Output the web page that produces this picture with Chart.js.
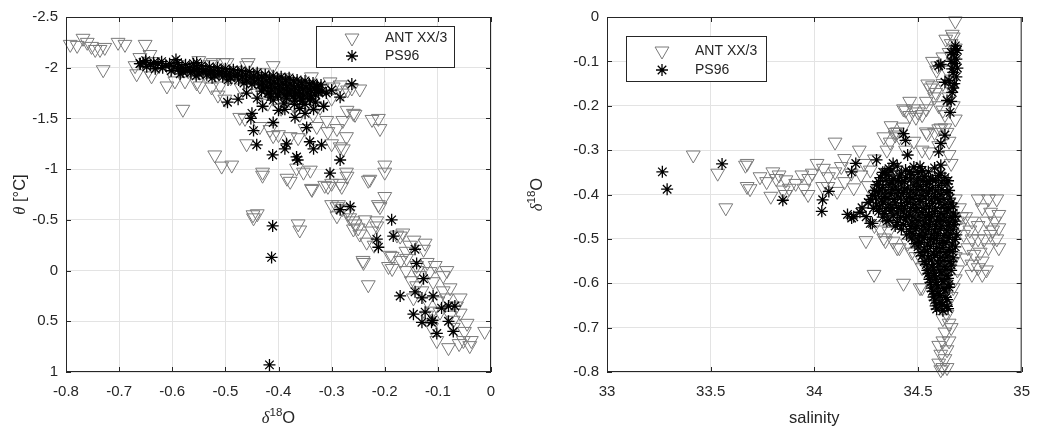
<!DOCTYPE html>
<html>
<head>
<meta charset="utf-8">
<script src="https://cdn.jsdelivr.net/npm/chart.js@4"></script>
<style>
  body { margin: 0; background: #fff; }
  #wrap { position: relative; width: 1041px; height: 428px; }
  #left { position: absolute; left: 0; top: 0; }
  #right { position: absolute; left: 520px; top: 0; }
</style>
</head>
<body>
<div id="wrap">
  <canvas id="left" width="520" height="428"></canvas>
  <canvas id="right" width="521" height="428"></canvas>
</div>
<script>
// ---- data ----
const seriesNames = ["ANT XX/3", "PS96"];

// left panel: [d18O, theta]
const antLeft = [
  [-0.792,-2.23],[-0.779,-2.22],[-0.768,-2.29],[-0.760,-2.25],[-0.752,-2.21],[-0.745,-2.18],[-0.736,-2.18],[-0.727,-2.20],[-0.730,-1.98],[-0.702,-2.25],[-0.689,-2.23],[-0.651,-2.23],
  [-0.670,-2.02],[-0.667,-1.94],[-0.661,-2.10],[-0.645,-1.97],[-0.642,-2.13],[-0.639,-1.92],[-0.636,-2.06],[-0.625,-2.02],[-0.610,-1.82],[-0.605,-1.98],[-0.595,-1.87],[-0.590,-2.03],[-0.576,-1.87],[-0.570,-1.97],[-0.554,-1.85],[-0.550,-2.07],[-0.548,-1.82],[-0.540,-1.95],[-0.529,-2.03],[-0.526,-1.81],[-0.523,-2.05],[-0.514,-1.73],[-0.510,-1.82],[-0.504,-2.05],[-0.501,-1.69],[-0.497,-2.05],[-0.490,-1.90],[-0.480,-1.97],[-0.473,-1.51],[-0.470,-1.80],[-0.463,-1.50],[-0.460,-2.02],[-0.457,-2.05],[-0.450,-1.88],[-0.440,-1.75],[-0.435,-1.42],[-0.430,-1.95],[-0.420,-1.65],[-0.416,-1.39],[-0.410,-2.02],[-0.410,-1.33],[-0.405,-1.80],[-0.400,-1.34],[-0.395,-1.60],[-0.390,-1.90],[-0.385,-1.70],[-0.378,-1.32],[-0.372,-1.63],[-0.370,-1.85],[-0.363,-1.31],[-0.360,-1.54],[-0.355,-1.75],[-0.350,-1.40],[-0.345,-1.65],[-0.338,-1.91],[-0.335,-1.54],[-0.330,-1.72],[-0.328,-1.42],[-0.322,-1.61],[-0.318,-1.80],[-0.309,-1.48],[-0.307,-1.37],[-0.303,-1.86],[-0.300,-1.25],[-0.300,-1.70],[-0.297,-1.81],[-0.290,-1.40],[-0.284,-1.83],[-0.284,-1.22],[-0.280,-1.75],[-0.279,-1.48],[-0.278,-1.20],[-0.272,-1.32],[-0.271,-1.58],[-0.270,-1.78],[-0.262,-1.80],[-0.259,-1.55],[-0.256,-1.54],[-0.247,-1.79],[-0.224,-1.49],[-0.212,-1.50],[-0.209,-1.40],
  [-0.580,-1.59],[-0.520,-1.14],[-0.507,-1.03],[-0.488,-1.04],[-0.460,-1.25],[-0.430,-0.97],[-0.430,-0.94],[-0.384,-0.91],[-0.378,-0.88],[-0.366,-1.01],[-0.353,-0.97],[-0.340,-0.99],[-0.338,-0.81],[-0.313,-0.84],[-0.307,-0.83],[-0.300,-0.86],[-0.284,-0.86],[-0.281,-0.83],[-0.272,-0.97],[-0.271,-0.93],[-0.231,-0.89],[-0.228,-0.90],[-0.200,-1.04],[-0.200,-0.97],[-0.200,-0.73],[-0.212,-0.65],
  [-0.448,-0.55],[-0.440,-0.56],[-0.447,-0.52],[-0.363,-0.46],[-0.360,-0.40],[-0.337,-0.80],[-0.300,-0.65],[-0.290,-0.63],[-0.280,-0.61],[-0.270,-0.60],[-0.287,-0.65],[-0.269,-0.56],[-0.290,-0.54],[-0.266,-0.52],[-0.259,-0.41],[-0.260,-0.49],[-0.256,-0.46],[-0.250,-0.42],[-0.247,-0.36],[-0.237,-0.50],[-0.234,-0.28],[-0.224,-0.39],[-0.240,-0.08],[-0.241,-0.10],[-0.231,0.14],[-0.215,-0.49],[-0.215,-0.44],[-0.220,-0.25],[-0.209,-0.63],[-0.190,-0.15],[-0.193,-0.04],[-0.186,-0.14],[-0.186,-0.02],[-0.177,-0.35],[-0.171,-0.34],[-0.166,-0.37],[-0.160,-0.19],[-0.159,-0.12],[-0.153,-0.25],[-0.146,0.27],[-0.145,-0.30],[-0.140,-0.05],[-0.139,0.00],[-0.134,0.05],[-0.127,-0.21],[-0.124,-0.27],[-0.121,0.44],[-0.120,-0.08],[-0.115,0.01],[-0.112,0.56],[-0.109,0.11],[-0.105,-0.05],[-0.102,0.69],[-0.100,0.30],[-0.096,0.41],[-0.090,0.05],[-0.090,0.20],[-0.084,0.27],[-0.083,0.00],[-0.080,0.76],[-0.077,0.44],[-0.077,0.17],[-0.071,0.56],[-0.071,0.49],[-0.065,0.35],[-0.058,0.27],[-0.058,0.42],[-0.052,0.69],[-0.050,0.60],[-0.045,0.52],[-0.037,0.69],[-0.040,0.74],[-0.060,0.72],[-0.012,0.60],[-0.130,0.20],[-0.150,0.10],[-0.140,0.15],[-0.120,0.30],[-0.110,0.40],[-0.160,0.00],[-0.170,-0.10]
];
const psLeft = [
  [-0.660,-2.04],[-0.650,-2.07],[-0.648,-2.01],[-0.635,-2.05],[-0.632,-1.99],[-0.620,-2.06],[-0.618,-2.00],[-0.605,-2.04],[-0.602,-1.97],[-0.590,-2.05],[-0.588,-1.99],[-0.585,-1.94],[-0.575,-2.03],[-0.572,-1.97],[-0.560,-2.04],[-0.558,-1.98],[-0.555,-1.92],[-0.545,-2.02],[-0.542,-1.96],[-0.530,-2.01],[-0.528,-1.95],[-0.525,-1.90],[-0.515,-2.00],[-0.512,-1.94],[-0.500,-1.99],[-0.498,-1.93],[-0.495,-1.88],[-0.485,-1.98],[-0.482,-1.92],[-0.470,-1.97],[-0.468,-1.91],[-0.465,-1.85],[-0.455,-1.96],[-0.452,-1.90],[-0.450,-1.84],[-0.440,-1.95],[-0.438,-1.89],[-0.435,-1.83],[-0.432,-1.77],[-0.425,-1.93],[-0.422,-1.87],[-0.420,-1.81],[-0.418,-1.75],[-0.410,-1.92],[-0.408,-1.86],[-0.405,-1.80],[-0.402,-1.74],[-0.395,-1.91],[-0.392,-1.85],[-0.390,-1.79],[-0.388,-1.73],[-0.380,-1.90],[-0.378,-1.84],[-0.375,-1.78],[-0.372,-1.72],[-0.365,-1.88],[-0.362,-1.82],[-0.360,-1.76],[-0.358,-1.70],[-0.350,-1.87],[-0.348,-1.81],[-0.345,-1.75],[-0.342,-1.69],[-0.335,-1.85],[-0.332,-1.79],[-0.330,-1.73],[-0.320,-1.83],[-0.318,-1.77],
  [-0.655,-2.05],[-0.641,-2.03],[-0.627,-2.04],[-0.612,-2.02],[-0.597,-2.01],[-0.582,-2.00],[-0.567,-2.00],[-0.552,-1.99],[-0.537,-1.98],[-0.522,-1.97],[-0.507,-1.96],[-0.492,-1.95],[-0.477,-1.94],[-0.462,-1.93],[-0.447,-1.92],[-0.432,-1.91],[-0.417,-1.90],[-0.402,-1.89],[-0.387,-1.88],[-0.372,-1.87],[-0.357,-1.85],[-0.342,-1.84],[-0.327,-1.82],
  [-0.580,-1.96],[-0.565,-1.95],[-0.550,-1.94],[-0.535,-1.93],[-0.520,-1.92],[-0.505,-1.91],[-0.490,-1.90],[-0.475,-1.88],[-0.460,-1.87],[-0.445,-1.86],[-0.430,-1.85],[-0.415,-1.84],[-0.400,-1.83],[-0.385,-1.82],[-0.370,-1.81],[-0.355,-1.79],[-0.340,-1.78],[-0.325,-1.76],
  [-0.428,-1.80],[-0.413,-1.78],[-0.398,-1.77],[-0.383,-1.76],[-0.368,-1.75],[-0.353,-1.73],[-0.338,-1.72],[-0.415,-1.71],[-0.385,-1.70],[-0.355,-1.67],[-0.370,-1.64],
  [-0.420,-1.75],[-0.410,-1.68],[-0.400,-1.72],[-0.390,-1.65],[-0.380,-1.75],[-0.370,-1.68],[-0.360,-1.72],[-0.350,-1.64],[-0.340,-1.70],[-0.330,-1.66],[-0.430,-1.62],[-0.400,-1.58],[-0.360,-1.60],[-0.350,-1.55],[-0.440,-1.70],[-0.460,-1.75],[-0.315,-1.62],[-0.310,-1.75],[-0.300,-1.78],
  [-0.661,-2.04],[-0.593,-2.08],[-0.554,-2.05],[-0.496,-1.66],[-0.476,-1.69],[-0.450,-1.55],[-0.452,-1.50],[-0.447,-1.38],[-0.441,-1.24],[-0.411,-1.14],[-0.388,-1.20],[-0.385,-1.25],[-0.366,-1.12],[-0.364,-1.09],[-0.341,-1.27],[-0.334,-1.20],[-0.319,-1.24],[-0.303,-0.96],[-0.284,-1.09],[-0.284,-1.71],[-0.262,-1.84],[-0.328,-1.81],[-0.334,-1.59],[-0.369,-1.51],[-0.388,-1.59],[-0.410,-1.46],[-0.347,-1.41],
  [-0.284,-0.60],[-0.265,-0.63],[-0.411,-0.44],[-0.413,-0.13],[-0.417,0.93],[-0.187,-0.50],[-0.184,-0.34],[-0.215,-0.31],[-0.212,-0.23],[-0.143,-0.21],[-0.140,-0.07],[-0.127,0.08],[-0.171,0.25],[-0.143,0.21],[-0.130,0.27],[-0.109,0.25],[-0.146,0.43],[-0.124,0.41],[-0.130,0.51],[-0.112,0.51],[-0.110,0.49],[-0.102,0.62],[-0.093,0.37],[-0.080,0.35],[-0.068,0.35],[-0.080,0.50],[-0.071,0.60]
];

// right panel: [salinity, d18O]
const antRight = [
  [33.416,-0.311],[33.534,-0.352],[33.573,-0.430],[33.668,-0.334],[33.676,-0.330],[33.676,-0.382],[33.738,-0.360],[33.690,-0.387],[33.770,-0.371],[33.790,-0.404],[33.800,-0.349],[33.816,-0.364],[33.830,-0.356],[33.850,-0.390],[33.863,-0.367],[33.860,-0.400],[33.879,-0.386],[33.910,-0.375],[33.940,-0.356],[33.950,-0.386],[33.973,-0.364],[33.970,-0.400],[33.990,-0.352],[34.013,-0.330],[34.040,-0.382],[34.044,-0.341],[34.066,-0.382],[34.068,-0.360],[34.100,-0.349],[34.100,-0.282],[34.110,-0.393],[34.130,-0.337],[34.146,-0.319],[34.146,-0.371],[34.178,-0.352],[34.190,-0.385],[34.217,-0.300],[34.225,-0.356],[34.240,-0.330],[34.270,-0.345],[34.260,-0.380],[34.290,-0.320],
  [34.335,-0.270],[34.366,-0.282],[34.390,-0.266],[34.400,-0.259],[34.430,-0.248],[34.430,-0.207],[34.460,-0.222],[34.477,-0.207],[34.490,-0.226],[34.500,-0.214],[34.540,-0.207],[34.460,-0.190],[34.540,-0.190],[34.540,-0.259],[34.547,-0.263],[34.555,-0.304],[34.547,-0.151],[34.570,-0.155],[34.585,-0.170],[34.600,-0.252],[34.580,-0.260],[34.600,-0.290],[34.595,-0.110],[34.634,-0.050],[34.680,-0.009],[34.665,-0.039],[34.670,-0.045],[34.660,-0.060],[34.650,-0.080],[34.670,-0.100],[34.620,-0.090],[34.640,-0.120],[34.660,-0.140],[34.620,-0.150],[34.650,-0.180],[34.600,-0.200],[34.630,-0.220],[34.610,-0.250],[34.640,-0.260],[34.650,-0.280],[34.570,-0.100],[34.590,-0.120],[34.560,-0.160],[34.580,-0.180],[34.440,-0.210],[34.520,-0.220],[34.370,-0.245],[34.390,-0.260],[34.410,-0.270],[34.620,-0.210],[34.630,-0.250],[34.660,-0.160],[34.680,-0.230],[34.670,-0.200],[34.680,-0.070],[34.650,-0.310],[34.660,-0.330],[34.440,-0.300],[34.480,-0.280],[34.350,-0.300],[34.520,-0.300],
  [34.680,-0.410],[34.700,-0.430],[34.730,-0.450],[34.760,-0.460],[34.790,-0.470],[34.830,-0.460],[34.870,-0.460],[34.890,-0.475],[34.700,-0.475],[34.720,-0.490],[34.760,-0.500],[34.790,-0.500],[34.820,-0.500],[34.850,-0.490],[34.890,-0.520],[34.740,-0.520],[34.770,-0.535],[34.810,-0.550],[34.830,-0.570],[34.760,-0.557],[34.790,-0.565],[34.730,-0.543],[34.665,-0.516],[34.660,-0.494],[34.680,-0.540],[34.790,-0.410],[34.840,-0.410],[34.880,-0.410],[34.810,-0.430],[34.850,-0.440],[34.890,-0.445],[34.860,-0.480],[34.880,-0.500],[34.840,-0.520],[34.800,-0.530],[34.760,-0.580],[34.810,-0.580],[34.750,-0.480],[34.710,-0.450],[34.690,-0.460],
  [34.249,-0.504],[34.288,-0.580],[34.343,-0.504],[34.335,-0.498],[34.380,-0.505],[34.410,-0.520],[34.400,-0.520],[34.430,-0.600],[34.510,-0.610],[34.520,-0.610],[34.490,-0.540],[34.510,-0.540],[34.520,-0.565],[34.550,-0.570],[34.560,-0.580],[34.360,-0.483],[34.290,-0.470],[34.320,-0.480],[34.450,-0.510],[34.470,-0.530],
  [34.660,-0.630],[34.670,-0.610],[34.680,-0.590],[34.690,-0.570],[34.660,-0.550],[34.640,-0.670],[34.650,-0.690],[34.660,-0.700],[34.630,-0.710],[34.620,-0.730],[34.650,-0.730],[34.600,-0.740],[34.640,-0.750],[34.610,-0.760],[34.630,-0.770],[34.600,-0.780],[34.620,-0.790],[34.640,-0.790],[34.610,-0.795],[34.620,-0.680],[34.630,-0.650]
];
const psRight = [
  [33.267,-0.349],[33.290,-0.388],[33.555,-0.331],[33.848,-0.413],[34.036,-0.438],[34.040,-0.412],[34.070,-0.393],[34.160,-0.445],[34.180,-0.453],[34.180,-0.349],[34.200,-0.330],[34.300,-0.322],[34.430,-0.263],[34.440,-0.278],[34.450,-0.311],[34.270,-0.465],[34.510,-0.337],[34.570,-0.367],[34.610,-0.334],[34.600,-0.304],[34.610,-0.285],[34.630,-0.266],[34.655,-0.215],[34.640,-0.188],[34.650,-0.143],[34.665,-0.170],[34.610,-0.107],[34.600,-0.110],[34.630,-0.147],
  [34.680,-0.065],[34.690,-0.075],[34.670,-0.085],[34.685,-0.095],[34.675,-0.105],[34.690,-0.115],[34.670,-0.125],[34.685,-0.135],[34.675,-0.150],[34.665,-0.117],[34.680,-0.072],[34.660,-0.100],[34.660,-0.080],[34.670,-0.160],[34.660,-0.190],
  [34.36,-0.342],[34.40,-0.336],[34.44,-0.345],[34.48,-0.338],[34.52,-0.346],[34.58,-0.340],
  [34.34,-0.350],[34.37,-0.347],[34.42,-0.352],[34.46,-0.348],[34.50,-0.351],[34.55,-0.349],[34.61,-0.352],
  [34.32,-0.362],[34.35,-0.356],[34.38,-0.364],[34.41,-0.358],[34.44,-0.362],[34.47,-0.355],[34.50,-0.363],[34.53,-0.359],[34.56,-0.365],[34.60,-0.357],[34.63,-0.362],
  [34.31,-0.371],[34.345,-0.368],[34.375,-0.372],[34.405,-0.369],[34.435,-0.371],[34.465,-0.367],[34.495,-0.372],[34.525,-0.369],[34.555,-0.371],[34.585,-0.368],[34.615,-0.372],[34.645,-0.369],
  [34.30,-0.378],[34.33,-0.384],[34.36,-0.377],[34.39,-0.383],[34.42,-0.376],[34.45,-0.385],[34.48,-0.379],[34.51,-0.382],[34.54,-0.377],[34.57,-0.384],[34.60,-0.380],[34.64,-0.376],
  [34.29,-0.391],[34.315,-0.388],[34.345,-0.392],[34.375,-0.389],[34.405,-0.391],[34.435,-0.388],[34.465,-0.392],[34.495,-0.389],[34.525,-0.391],[34.555,-0.388],[34.585,-0.392],[34.615,-0.389],[34.65,-0.391],
  [34.28,-0.402],[34.31,-0.397],[34.34,-0.404],[34.37,-0.398],[34.40,-0.403],[34.43,-0.396],[34.46,-0.404],[34.49,-0.399],[34.52,-0.402],[34.55,-0.397],[34.58,-0.405],[34.61,-0.400],[34.64,-0.396],
  [34.27,-0.411],[34.295,-0.408],[34.325,-0.412],[34.355,-0.409],[34.385,-0.411],[34.415,-0.408],[34.445,-0.412],[34.475,-0.409],[34.505,-0.411],[34.535,-0.408],[34.565,-0.412],[34.595,-0.409],[34.625,-0.411],[34.655,-0.408],
  [34.26,-0.418],[34.30,-0.424],[34.33,-0.417],[34.36,-0.423],[34.39,-0.419],[34.42,-0.425],[34.45,-0.418],[34.48,-0.422],[34.51,-0.416],[34.54,-0.424],[34.57,-0.420],[34.60,-0.417],[34.63,-0.423],[34.66,-0.419],
  [34.285,-0.431],[34.315,-0.428],[34.345,-0.432],[34.375,-0.429],[34.405,-0.431],[34.435,-0.428],[34.465,-0.432],[34.495,-0.429],[34.525,-0.431],[34.555,-0.428],[34.585,-0.432],[34.615,-0.429],[34.645,-0.431],[34.67,-0.428],
  [34.31,-0.438],[34.34,-0.443],[34.37,-0.437],[34.40,-0.442],[34.43,-0.439],[34.46,-0.444],[34.49,-0.437],[34.52,-0.441],[34.55,-0.445],[34.58,-0.438],[34.61,-0.443],[34.64,-0.439],[34.67,-0.442],
  [34.33,-0.451],[34.38,-0.448],[34.415,-0.452],[34.445,-0.449],[34.475,-0.451],[34.505,-0.448],[34.535,-0.452],[34.565,-0.449],[34.595,-0.451],[34.625,-0.448],[34.655,-0.452],[34.68,-0.449],
  [34.36,-0.458],[34.40,-0.463],[34.44,-0.457],[34.47,-0.462],[34.50,-0.459],[34.53,-0.464],[34.56,-0.457],[34.59,-0.461],[34.62,-0.458],[34.65,-0.463],[34.68,-0.460],
  [34.39,-0.471],[34.43,-0.468],[34.465,-0.472],[34.495,-0.469],[34.525,-0.471],[34.555,-0.468],[34.585,-0.472],[34.615,-0.469],[34.645,-0.471],[34.675,-0.468],
  [34.42,-0.478],[34.46,-0.483],[34.49,-0.477],[34.52,-0.482],[34.55,-0.479],[34.58,-0.484],[34.61,-0.477],[34.64,-0.481],[34.67,-0.478],
  [34.445,-0.491],[34.475,-0.488],[34.505,-0.492],[34.535,-0.489],[34.565,-0.491],[34.595,-0.488],[34.625,-0.492],[34.655,-0.489],[34.685,-0.491],
  [34.47,-0.498],[34.50,-0.503],[34.53,-0.497],[34.56,-0.502],[34.59,-0.499],[34.62,-0.504],[34.65,-0.497],[34.68,-0.501],
  [34.485,-0.511],[34.515,-0.508],[34.545,-0.512],[34.575,-0.509],[34.605,-0.511],[34.635,-0.508],[34.665,-0.512],
  [34.50,-0.518],[34.53,-0.523],[34.56,-0.517],[34.59,-0.522],[34.62,-0.519],[34.65,-0.524],[34.68,-0.518],
  [34.51,-0.531],[34.545,-0.528],[34.575,-0.532],[34.605,-0.529],[34.635,-0.531],[34.665,-0.528],
  [34.52,-0.538],[34.55,-0.543],[34.58,-0.537],[34.61,-0.542],[34.64,-0.539],[34.67,-0.543],
  [34.53,-0.551],[34.565,-0.548],[34.595,-0.552],[34.625,-0.549],[34.655,-0.551],
  [34.54,-0.558],[34.57,-0.563],[34.60,-0.557],[34.63,-0.562],[34.66,-0.559],
  [34.545,-0.571],[34.575,-0.568],[34.605,-0.572],[34.635,-0.569],[34.66,-0.571],
  [34.55,-0.578],[34.58,-0.583],[34.61,-0.577],[34.64,-0.582],
  [34.555,-0.591],[34.585,-0.588],[34.615,-0.592],[34.645,-0.589],
  [34.56,-0.598],[34.59,-0.603],[34.62,-0.597],[34.65,-0.602],
  [34.565,-0.611],[34.595,-0.608],[34.625,-0.612],[34.65,-0.609],
  [34.57,-0.618],[34.60,-0.623],[34.63,-0.617],
  [34.575,-0.631],[34.605,-0.628],[34.635,-0.632],
  [34.58,-0.638],[34.61,-0.643],[34.64,-0.637],
  [34.585,-0.651],[34.615,-0.648],[34.64,-0.652],
  [34.59,-0.658],[34.62,-0.662],[34.645,-0.657],
  [34.25,-0.450],[34.22,-0.440],[34.19,-0.450],[34.28,-0.465],[34.35,-0.460],[34.33,-0.350],[34.38,-0.330],[34.23,-0.430]
];

// axis ranges / ticks
const leftXTicks = [-0.8, -0.7, -0.6, -0.5, -0.4, -0.3, -0.2, -0.1, 0];
const leftYTicks = [-2.5, -2, -1.5, -1, -0.5, 0, 0.5, 1];
const rightXTicks = [33, 33.5, 34, 34.5, 35];
const rightYTicks = [-0.8, -0.7, -0.6, -0.5, -0.4, -0.3, -0.2, -0.1, 0];

// ---- drawing ----
const FONT = "'Liberation Sans', Arial, sans-serif";
const GREEK = "'Liberation Serif', 'DejaVu Serif', serif";
const TXT = '#262626';
Chart.defaults.font.family = FONT;
Chart.defaults.color = TXT;

function toPoints(list) {
  return list.map(function(p) { return {x: p[0], y: p[1]}; });
}

function drawRich(ctx, parts, x0, y0, size) {
  var fonts = parts.map(function(p) {
    var fam = p.greek ? GREEK : FONT;
    return (p.it ? 'italic ' : '') + (p.sup ? size * 0.7 : size) + 'px ' + fam;
  });
  var total = 0;
  parts.forEach(function(p, i) { ctx.font = fonts[i]; total += ctx.measureText(p.t).width; });
  var x = x0 - total / 2;
  ctx.textAlign = 'left';
  ctx.textBaseline = 'alphabetic';
  parts.forEach(function(p, i) {
    ctx.font = fonts[i];
    ctx.fillText(p.t, x, y0 - (p.sup ? size * 0.42 : 0));
    x += ctx.measureText(p.t).width;
  });
}

// box round the axes, inward ticks, axis titles, boxed legend
const matlabLook = {
  id: 'matlabLook',
  afterDraw: function(chart, args, o) {
    var ctx = chart.ctx, ca = chart.chartArea;
    var xs = chart.scales.x, ys = chart.scales.y;
    ctx.save();
    ctx.strokeStyle = TXT;
    ctx.lineWidth = 1;
    ctx.strokeRect(ca.left + 0.5, ca.top + 0.5, ca.right - ca.left - 1, ca.bottom - ca.top - 1);
    ctx.beginPath();
    xs.ticks.forEach(function(t) {
      var px = Math.round(xs.getPixelForValue(t.value)) + 0.5;
      ctx.moveTo(px, ca.bottom); ctx.lineTo(px, ca.bottom - 5);
      ctx.moveTo(px, ca.top); ctx.lineTo(px, ca.top + 5);
    });
    ys.ticks.forEach(function(t) {
      var py = Math.round(ys.getPixelForValue(t.value)) + 0.5;
      ctx.moveTo(ca.left, py); ctx.lineTo(ca.left + 5, py);
      ctx.moveTo(ca.right, py); ctx.lineTo(ca.right - 5, py);
    });
    ctx.stroke();

    // axis titles
    ctx.fillStyle = TXT;
    drawRich(ctx, o.xTitle, (ca.left + ca.right) / 2, o.xTitleY, 16.5);
    ctx.save();
    ctx.translate(o.yTitleX, (ca.top + ca.bottom) / 2);
    ctx.rotate(-Math.PI / 2);
    drawRich(ctx, o.yTitle, 0, 6, 16.5);
    ctx.restore();

    // legend
    var lx = ca.left + o.legend.dx, ly = ca.top + o.legend.dy;
    ctx.fillStyle = '#fff';
    ctx.fillRect(lx, ly, o.legend.w, o.legend.h);
    ctx.strokeStyle = TXT;
    ctx.strokeRect(lx + 0.5, ly + 0.5, o.legend.w, o.legend.h);
    chart.data.datasets.forEach(function(ds, i) {
      var my = ly + o.legend.rows[i];
      ctx.strokeStyle = ds.pointBorderColor;
      ctx.fillStyle = 'rgba(0,0,0,0)';
      ctx.lineWidth = ds.pointBorderWidth;
      Chart.helpers.drawPoint(ctx, {
        pointStyle: ds.pointStyle, radius: ds.pointRadius,
        rotation: ds.pointRotation, borderWidth: ds.pointBorderWidth
      }, lx + o.legend.symX, my);
      ctx.fillStyle = TXT;
      ctx.font = '14px ' + FONT;
      ctx.textAlign = 'left';
      ctx.textBaseline = 'middle';
      ctx.fillText(ds.label, lx + o.legend.textX, my);
    });
    ctx.restore();
  }
};

function makeScatter(canvasId, antData, psData, ax) {
  return new Chart(document.getElementById(canvasId), {
    type: 'scatter',
    data: {
      datasets: [{
        label: seriesNames[0],
        data: toPoints(antData),
        pointStyle: 'triangle',
        pointRotation: 180,
        pointRadius: 8,
        pointBorderWidth: 1,
        pointBorderColor: '#7a7a7a',
        pointBackgroundColor: 'rgba(0,0,0,0)',
        order: 2,
        clip: false
      }, {
        label: seriesNames[1],
        data: toPoints(psData),
        pointStyle: 'star',
        pointRotation: 0,
        pointRadius: 6,
        pointBorderWidth: 1.3,
        pointBorderColor: '#000000',
        pointBackgroundColor: 'rgba(0,0,0,0)',
        order: 1,
        clip: false
      }]
    },
    options: {
      responsive: false,
      animation: false,
      events: [],
      devicePixelRatio: 1,
      layout: { autoPadding: false, padding: ax.padding },
      plugins: {
        legend: { display: false },
        tooltip: { enabled: false },
        matlabLook: ax.look
      },
      scales: {
        x: {
          type: 'linear', min: ax.xTicks[0], max: ax.xTicks[ax.xTicks.length - 1],
          afterBuildTicks: function(s) { s.ticks = ax.xTicks.map(function(v) { return {value: v}; }); },
          afterFit: function(s) { s.height = 56; },
          grid: { color: '#e3e3e3', drawTicks: false },
          border: { display: false },
          ticks: { font: { size: 15 }, color: TXT, padding: 11, maxRotation: 0,
                   callback: function(v) { return String(v); } }
        },
        y: {
          type: 'linear', min: ax.yMin, max: ax.yMax, reverse: ax.reverse,
          afterBuildTicks: function(s) { s.ticks = ax.yTicks.map(function(v) { return {value: v}; }); },
          afterFit: function(s) { s.width = ax.yWidth; },
          grid: { color: '#e3e3e3', drawTicks: false },
          border: { display: false },
          ticks: { font: { size: 15 }, color: TXT, padding: 8,
                   callback: function(v) { return String(v); } }
        }
      }
    },
    plugins: [matlabLook]
  });
}

makeScatter('left', antLeft, psLeft, {
  xTicks: leftXTicks, yTicks: leftYTicks, yMin: -2.5, yMax: 1, reverse: true,
  yWidth: 66, padding: { top: 14, right: 29, bottom: 0, left: 0 },
  look: {
    xTitle: [{t: 'δ', it: true, greek: true}, {t: '18', sup: true}, {t: 'O'}],
    xTitleY: 423,
    yTitle: [{t: 'θ', it: true, greek: true}, {t: ' [°C]'}],
    yTitleX: 19,
    legend: { dx: 250, dy: 9, w: 138, h: 41, rows: [12, 30], symX: 36, textX: 69 }
  }
});

makeScatter('right', antRight, psRight, {
  xTicks: rightXTicks, yTicks: rightYTicks, yMin: -0.8, yMax: 0, reverse: false,
  yWidth: 87, padding: { top: 14, right: 10, bottom: 0, left: 0 },
  look: {
    xTitle: [{t: 'salinity'}],
    xTitleY: 423,
    yTitle: [{t: 'δ', it: true, greek: true}, {t: '18', sup: true}, {t: 'O'}],
    yTitleX: 16,
    legend: { dx: 19, dy: 19, w: 140, h: 45, rows: [15, 34], symX: 36, textX: 69 }
  }
});
</script>
</body>
</html>
